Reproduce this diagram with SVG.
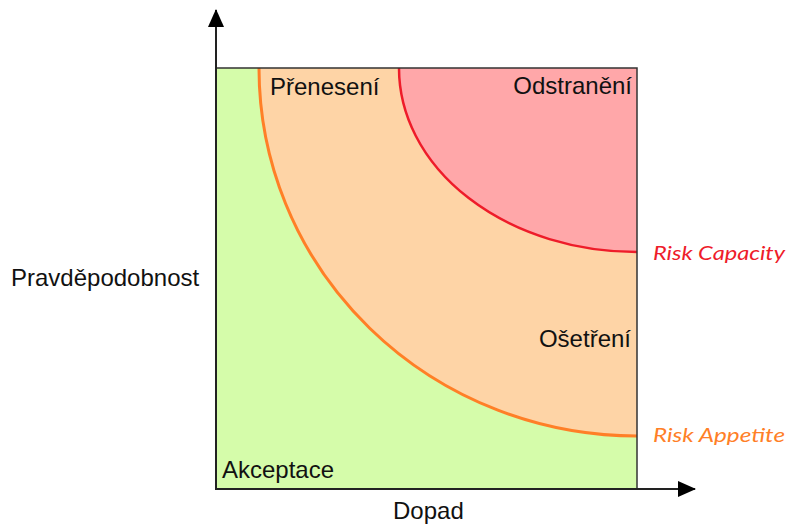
<svg xmlns="http://www.w3.org/2000/svg" width="790" height="526" viewBox="0 0 790 526">
  <style>
    .lbl { font-family: "Liberation Sans", Arial, sans-serif; font-size: 24px; fill: #111; }
    .risk { font-family: Lato, "Open Sans", sans-serif; font-style: italic; font-size: 20px; }
    .axis { stroke: #222; stroke-width: 2; fill: none; }
  </style>
  <defs>
    <marker id="arrow" viewBox="0 0 18 16" refX="17" refY="8" markerWidth="18" markerHeight="16" markerUnits="userSpaceOnUse" orient="auto">
      <path d="M0,0 L18,8 L0,16 Z" fill="#000"/>
    </marker>
  </defs>
  <rect width="790" height="526" fill="#fff"/>

  <g id="akceptace">
    <rect x="216" y="68" width="421" height="421" fill="#D5FCAA"/>
  </g>
  <g id="osetreni">
    <path d="M259,68 A378,368 0 0 0 637,436 L637,68 Z" fill="#FED4A6"/>
    <path d="M259,68 A378,368 0 0 0 637,436" fill="none" stroke="#FF7F27" stroke-width="3"/>
  </g>
  <g id="odstraneni">
    <path d="M399,68 A238,184 0 0 0 637,252 L637,68 Z" fill="#FFA7A9"/>
    <path d="M399,68 A238,184 0 0 0 637,252" fill="none" stroke="#EE1C2A" stroke-width="2.5"/>
  </g>
  <g id="frame">
    <rect x="216" y="68" width="421" height="421" fill="none" stroke="#333" stroke-width="1.5"/>
  </g>

  <g id="connectors">
    <line class="axis" x1="216" y1="490" x2="216" y2="10" marker-end="url(#arrow)"/>
    <line class="axis" x1="215" y1="489" x2="695" y2="489" marker-end="url(#arrow)"/>
  </g>

  <g id="labels">
    <text class="lbl" x="270" y="95">Přenesení</text>
    <text class="lbl" x="632" y="94" text-anchor="end">Odstranění</text>
    <text class="lbl" x="631" y="347" text-anchor="end">Ošetření</text>
    <text class="lbl" x="222" y="478">Akceptace</text>
    <text class="lbl" x="11" y="286">Pravděpodobnost</text>
    <text class="lbl" x="393" y="519">Dopad</text>
    <text class="risk" x="653" y="260" fill="#EE1C2A" textLength="132" lengthAdjust="spacingAndGlyphs">Risk Capacity</text>
    <text class="risk" x="653" y="442" fill="#FF7F27" textLength="132" lengthAdjust="spacingAndGlyphs">Risk Appetite</text>
  </g>
</svg>
